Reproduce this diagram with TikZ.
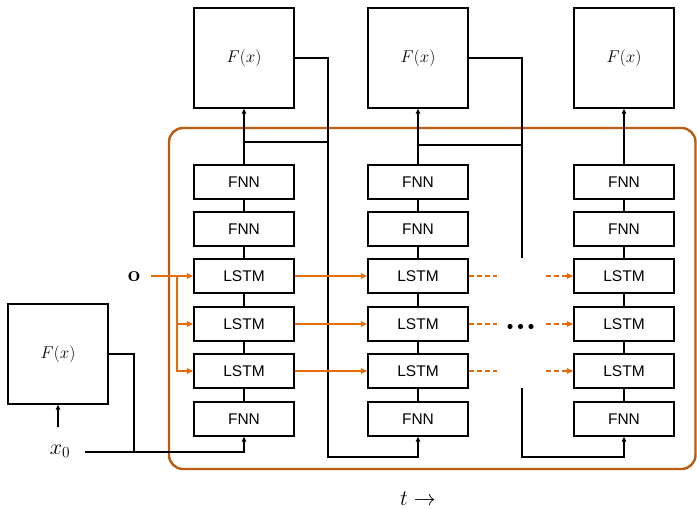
\documentclass[tikz,border=0pt]{standalone}
\usepackage{fix-cm}
\usepackage{fontspec}
\setsansfont{Liberation Sans}
\usetikzlibrary{arrows.meta}
\definecolor{oarrc}{RGB}{228,108,10}
\definecolor{oboxc}{RGB}{184,92,18}
\tikzset{
  blk/.style={draw, line width=1.4pt, fill=white, minimum width=100pt, minimum height=34pt, inner sep=0pt, font=\sffamily\fontsize{15.5}{18}\selectfont},
  fbx/.style={draw, line width=1.4pt, fill=white, minimum width=100pt, minimum height=100pt, inner sep=0pt, font=\fontsize{17}{19}\selectfont},
  conn/.style={line width=1.4pt},
  arr/.style={line width=1.4pt, -{Triangle[length=5pt,width=4.5pt]}},
  oarr/.style={line width=2pt, color=oarrc, -{Triangle[length=6.5pt,width=5.5pt]}},
  odash/.style={line width=2pt, color=oarrc, dash pattern=on 5pt off 3pt},
  obox/.style={line width=2.4pt, color=oboxc, rounded corners=14pt},
  lbl/.style={font=\fontsize{22}{24}\selectfont, inner sep=0pt},
}
\begin{document}
\begin{tikzpicture}[x=1pt,y=-1pt]
\useasboundingbox (0,0) rectangle (697,509);
% orange frame
\draw[obox] (169,128) rectangle (695.5,469);
% top F(x) boxes
\node[fbx] (F1) at (244,58) {$F(x)$};
\node[fbx] (F2) at (418,58) {$F(x)$};
\node[fbx] (F3) at (624,58) {$F(x)$};
\node[fbx] (L) at (58,354) {$F(x)$};
% columns
\foreach \c/\x in {1/244, 2/418, 3/624} {
  \node[blk] (n\c1) at (\x,182) {FNN};
  \node[blk] (n\c2) at (\x,229) {FNN};
  \node[blk] (n\c3) at (\x,276) {LSTM};
  \node[blk] (n\c4) at (\x,324) {LSTM};
  \node[blk] (n\c5) at (\x,371) {LSTM};
  \node[blk] (n\c6) at (\x,419) {FNN};
  \draw[conn] (n\c1.south) -- (n\c2.north);
  \draw[conn] (n\c2.south) -- (n\c3.north);
  \draw[conn] (n\c3.south) -- (n\c4.north);
  \draw[conn] (n\c4.south) -- (n\c5.north);
  \draw[conn] (n\c5.south) -- (n\c6.north);
  \draw[arr] (n\c1.north) -- (F\c.south);
}
% input side
\node[lbl] (x0) at (60,451) {$x_0$};
\draw[arr] ([yshift=-22pt]L.south) -- (L.south);
\coordinate (s0) at (85,452);
\coordinate (j0) at (134,452);
\draw[arr] (s0) -| (n16.south);
\draw[conn] (L.east) -| (j0);
% feedback column 1 -> 2
\coordinate (b1) at (328,457);
\coordinate (k1) at (244,142);
\coordinate (k1r) at (328,142);
\draw[arr] (F1.east) -| (b1) -| (n26.south);
\draw[conn] (k1) -- (k1r);
% feedback column 2 -> ... -> 3
\coordinate (b2t) at (522,258);
\coordinate (k2) at (418,145);
\coordinate (k2r) at (522,145);
\coordinate (b2s) at (522,388);
\coordinate (b2b) at (522,457);
\draw[conn] (F2.east) -| (b2t);
\draw[conn] (k2) -- (k2r);
\draw[arr] (b2s) -- (b2b) -| (n36.south);
% orange inputs
\node[inner sep=0pt, font=\fontsize{22}{24}\selectfont\bfseries] (o) at (134,277) {o};
\coordinate (os) at (151,276);
\coordinate (ob) at (177,276);
\draw[oarr] (os) -- (n13.west);
\draw[oarr] (ob) |- (n14.west);
\draw[oarr] (ob) |- (n15.west);
\foreach \r in {3,4,5} {
  \draw[oarr] (n1\r.east) -- (n2\r.west);
  \draw[odash] (n2\r.east) -- ++(28,0);
  \draw[odash, -{Triangle[length=6.5pt,width=5.5pt]}] ([xshift=-27pt]n3\r.west) -- (n3\r.west);
}
% dots
\foreach \x in {510,520.5,531} \fill (\x,326.5) circle (2.6pt);
% time label
\node[lbl] (t) at (418,499) {$t \rightarrow$};
\end{tikzpicture}
\end{document}
